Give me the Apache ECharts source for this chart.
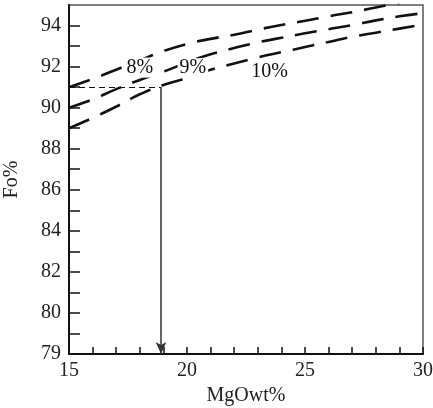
<!DOCTYPE html>
<html>
<head>
<meta charset="utf-8">
<script src="https://cdn.jsdelivr.net/npm/echarts@6/dist/echarts.min.js"></script>
<style>
  html, body { margin: 0; padding: 0; background: #fff; }
  #chart { width: 433px; height: 408px; }
</style>
</head>
<body>
<div id="chart"></div>
<script>
// MgO wt% (x) vs Fo% (y), one curve per FeO content
const mgo8 = [15, 16, 17, 18, 19, 20, 21, 22, 23, 24, 25, 26, 27, 28, 29];
const fo8 = [91.0, 91.4, 91.85, 92.3, 92.75, 93.1, 93.35, 93.55, 93.8, 94.03, 94.23, 94.45, 94.65, 94.88, 95.1];

const mgo9 = [15, 16, 17, 18, 19, 20, 21, 22, 23, 24, 25, 26, 27, 28, 29, 30];
const fo9 = [90.0, 90.4, 90.9, 91.35, 91.75, 92.2, 92.6, 92.9, 93.18, 93.4, 93.62, 93.82, 94.02, 94.25, 94.45, 94.6];

const mgo10 = [15, 16, 17, 18, 19, 20, 21, 22, 23, 24, 25, 26, 27, 28, 29, 30];
const fo10 = [89.0, 89.5, 90.05, 90.65, 91.1, 91.45, 91.85, 92.15, 92.45, 92.7, 92.95, 93.2, 93.45, 93.65, 93.85, 94.05];

// curve labels
const labelNames = ['8%', '9%', '10%'];
const labelX = [18.0, 20.25, 23.5];
const labelY = [91.95, 91.92, 91.73];

// reading guide: Fo 91 -> MgO ~18.9
const guideFo = 91;
const guideMgO = 18.9;

// tick labels (bottom of the axis is printed as 79)
const yLabelValues = [78, 80, 82, 84, 86, 88, 90, 92, 94];
const yLabelTexts = ['79', '80', '82', '84', '86', '88', '90', '92', '94'];

const zip = (xs, ys) => xs.map((x, i) => [x, ys[i]]);

function setChart() {
  const chartDom = document.getElementById('chart');
  const myChart = echarts.init(chartDom);
  const font = 'Liberation Serif';

  const curve = (name, xs, ys) => ({
    name: name,
    type: 'line',
    data: zip(xs, ys),
    smooth: true,
    symbol: 'none',
    lineStyle: { color: '#111', width: 2.6, type: [22, 12] },
    z: 3
  });

  const option = {
    backgroundColor: '#fff',
    animation: false,
    grid: {
      left: 69,
      right: 10,
      top: 5,
      bottom: 54,
      outerBoundsMode: 'none',
      containLabel: false,
      show: true,
      borderColor: '#555',
      borderWidth: 1.5
    },
    xAxis: {
      type: 'value',
      min: 15,
      max: 30,
      interval: 5,
      name: 'MgOwt%',
      nameLocation: 'middle',
      nameGap: 29,
      nameTextStyle: { fontFamily: font, fontSize: 20, color: '#222' },
      axisLine: { lineStyle: { color: '#111', width: 2 } },
      axisTick: { inside: true, length: 7, lineStyle: { color: '#111', width: 1.5 } },
      minorTick: { show: true, splitNumber: 5, length: 7, lineStyle: { color: '#111', width: 1.5 } },
      axisLabel: { fontFamily: font, fontSize: 20, color: '#222', margin: 7 },
      splitLine: { show: false }
    },
    yAxis: {
      type: 'value',
      min: 78,
      max: 95,
      interval: 1,
      name: 'Fo%',
      nameLocation: 'middle',
      nameGap: 47,
      nameTextStyle: { fontFamily: font, fontSize: 20, color: '#222' },
      axisLine: { lineStyle: { color: '#111', width: 2 } },
      axisTick: { inside: true, length: 11, lineStyle: { color: '#111', width: 1.5 } },
      axisLabel: {
        fontFamily: font,
        fontSize: 20,
        color: '#222',
        margin: 8,
        showMaxLabel: false,
        formatter: function (v) {
          const i = yLabelValues.indexOf(v);
          return i >= 0 ? yLabelTexts[i] : '';
        }
      },
      splitLine: { show: false }
    },
    series: [
      curve('8%', mgo8, fo8),
      curve('9%', mgo9, fo9),
      curve('10%', mgo10, fo10),
      {
        name: 'guide',
        type: 'line',
        data: [],
        markLine: {
          silent: true,
          animation: false,
          label: { show: false },
          data: [
            [
              { coord: [15, guideFo], symbol: 'none', lineStyle: { color: '#111', width: 1, type: [6, 4] } },
              { coord: [guideMgO, guideFo], symbol: 'none' }
            ],
            [
              { coord: [guideMgO, guideFo], symbol: 'none', lineStyle: { color: '#333', width: 1.5, type: 'solid' } },
              { coord: [guideMgO, 78], symbol: 'arrow', symbolSize: [8, 12] }
            ]
          ]
        },
        z: 2
      },
      {
        name: 'labels',
        type: 'scatter',
        symbolSize: 0,
        itemStyle: { opacity: 1 },
        data: labelNames.map((n, i) => [labelX[i], labelY[i], n]),
        label: {
          show: true,
          position: 'inside',
          formatter: p => p.data[2],
          fontFamily: font,
          fontSize: 20,
          color: '#111',
          opacity: 1,
          backgroundColor: '#fff',
          padding: [0, 2]
        },
        z: 5
      }
    ]
  };

  option && myChart.setOption(option);
}

setChart();
</script>
</body>
</html>
